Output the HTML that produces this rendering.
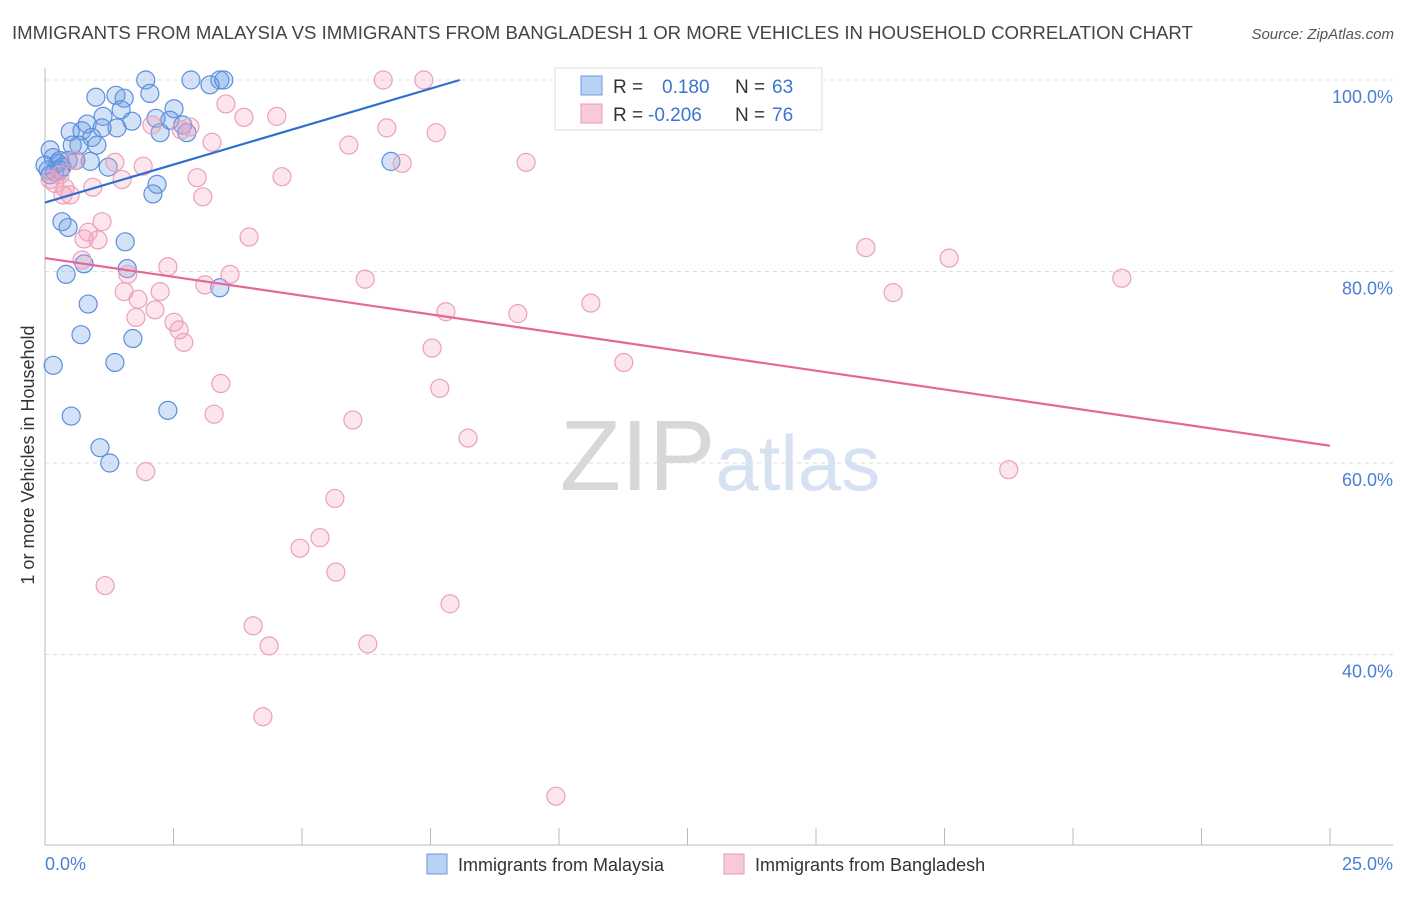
<!DOCTYPE html>
<html><head><meta charset="utf-8"><style>
body{margin:0;background:#fff;font-family:"Liberation Sans",sans-serif;}
svg text{font-family:"Liberation Sans",sans-serif;}
</style></head><body>
<svg id="chart" width="1406" height="892" xmlns="http://www.w3.org/2000/svg">
<text x="12" y="39" font-size="18.6" fill="#444">IMMIGRANTS FROM MALAYSIA VS IMMIGRANTS FROM BANGLADESH 1 OR MORE VEHICLES IN HOUSEHOLD CORRELATION CHART</text>
<text x="1394" y="39" font-size="15" fill="#555" text-anchor="end" font-style="italic">Source: ZipAtlas.com</text>
<text x="720" y="490" font-size="100" text-anchor="middle" fill="#ddd" font-family="Liberation Serif"><tspan fill="#d8d8d8">ZIP</tspan><tspan fill="#d6e2f2" font-family="Liberation Sans" font-size="78">atlas</tspan></text>
<g id="grid"></g>
<g id="axes"></g>
<g id="pts"></g>
<g id="lines"></g>
<text transform="translate(34,455) rotate(-90)" font-size="18" fill="#333" text-anchor="middle">1 or more Vehicles in Household</text>
<text x="45" y="870" font-size="18" fill="#4a7fd4">0.0%</text>
<text x="1393" y="870" font-size="18" fill="#4a7fd4" text-anchor="end">25.0%</text>
<g>
<rect x="555" y="68" width="267" height="62" fill="#fff" stroke="#ddd"/>
<rect x="581" y="76" width="21" height="19" fill="#b9d1f3" stroke="#6d9be0"/>
<rect x="581" y="104" width="21" height="19" fill="#f9c9d8" stroke="#eb9ab5"/>
<text x="613" y="93" font-size="19" fill="#333">R = </text><text x="662" y="93" font-size="19" fill="#3b74d1">0.180</text>
<text x="735" y="93" font-size="19" fill="#333">N = </text><text x="772" y="93" font-size="19" fill="#3b74d1">63</text>
<text x="613" y="121" font-size="19" fill="#333">R = </text><text x="648" y="121" font-size="19" fill="#3b74d1">-0.206</text>
<text x="735" y="121" font-size="19" fill="#333">N = </text><text x="772" y="121" font-size="19" fill="#3b74d1">76</text>
</g>
<g><rect x="427" y="854" width="20" height="20" fill="#b9d1f3" stroke="#6d9be0"/><text x="458" y="871" font-size="18" fill="#333">Immigrants from Malaysia</text></g>
<g><rect x="724" y="854" width="20" height="20" fill="#f9c9d8" stroke="#eb9ab5"/><text x="755" y="871" font-size="18" fill="#333">Immigrants from Bangladesh</text></g>
</svg>
<script>
const blueX=[1.96,2.84,3.40,3.48,3.21,2.04,0.99,1.38,1.54,1.48,2.51,1.13,1.69,2.16,2.43,2.68,0.82,1.40,1.11,0.49,0.72,2.24,2.76,0.91,0.66,1.01,0.53,0.10,0.16,0.29,0.45,0.88,0.25,0.60,0.06,0.19,1.23,0.33,6.73,2.18,2.10,0.33,0.45,1.56,1.60,0.76,0.41,3.40,0.84,0.70,1.71,1.36,0.16,0.51,2.39,1.07,1.26,0.29,0.00,0.10];
const blueY=[100,100,100,100,99.5,98.6,98.2,98.4,98.1,96.9,97.0,96.2,95.7,96.0,95.8,95.3,95.4,95.0,95.0,94.6,94.7,94.5,94.5,94.0,93.2,93.2,93.2,92.7,91.9,91.6,91.6,91.5,91.3,91.6,90.6,90.4,90.9,90.9,91.5,89.1,88.1,85.2,84.6,83.1,80.3,80.8,79.7,78.3,76.6,73.4,73.0,70.5,70.2,64.9,65.5,61.6,60.0,90.6,91.1,90.1];
const pinkX=[6.58,7.37,3.52,3.87,4.51,2.08,2.82,2.65,3.25,5.91,6.65,7.61,9.36,6.95,1.36,0.58,1.91,1.50,2.96,4.61,0.19,0.93,0.35,0.49,3.07,1.11,0.84,1.03,0.76,3.97,15.97,17.59,0.72,2.39,1.61,3.60,6.23,20.95,3.11,1.54,2.24,16.50,1.81,10.62,2.14,7.80,9.20,1.77,2.51,2.61,2.70,7.53,11.26,3.42,7.68,3.29,5.99,8.23,1.96,18.75,5.64,5.35,4.96,5.66,1.17,7.88,4.05,4.36,6.28,4.24,9.94,0.10,0.29,0.39];
const pinkY=[100,100,97.5,96.1,96.2,95.3,95.1,94.8,93.5,93.2,95.0,94.5,91.4,91.3,91.4,91.6,91.0,89.6,89.8,89.9,89.2,88.8,88.0,88.0,87.8,85.2,84.1,83.3,83.4,83.6,82.5,81.4,81.2,80.5,79.7,79.7,79.2,79.3,78.6,77.9,77.9,77.8,77.1,76.7,76.0,75.8,75.6,75.2,74.7,73.9,72.6,72.0,70.5,68.3,67.8,65.1,64.5,62.6,59.1,59.3,56.3,52.2,51.1,48.6,47.2,45.3,43.0,40.9,41.1,33.5,25.2,89.6,90.1,88.7];
const blueTrendX=[0,8.07], blueTrendY=[87.2,100];
const pinkTrendX=[0,25], pinkTrendY=[81.4,61.8];
const yTicks=[100,80,60,40];
const yTickLabels=["100.0%","80.0%","60.0%","40.0%"];
const xTicks=[0,2.5,5,7.5,10,12.5,15,17.5,20,22.5,25];
const NS="http://www.w3.org/2000/svg";
const sx=v=>45+v*(1285/25);
const sy=v=>80+(100-v)*9.575;
function mk(tag,attrs,parent){const e=document.createElementNS(NS,tag);for(const k in attrs)e.setAttribute(k,attrs[k]);parent.appendChild(e);return e;}
const grid=document.getElementById('grid'),axes=document.getElementById('axes'),pts=document.getElementById('pts'),lines=document.getElementById('lines');
yTicks.forEach((t,i)=>{
 const l=mk('line',{x1:45,x2:1393,y1:sy(t),y2:sy(t),stroke:'#ddd','stroke-dasharray':'4,4'},grid);
 
 
 const tx=mk('text',{x:1393,y:sy(t)+23,'font-size':18,fill:'#4a7fd4','text-anchor':'end'},grid);
 tx.textContent=yTickLabels[i];
 
 
});
const ya=mk('line',{x1:45,x2:45,y1:68,y2:845,stroke:'#bbb'},axes);


const xa=mk('line',{x1:45,x2:1393,y1:845,y2:845,stroke:'#bbb'},axes);


xTicks.forEach(t=>{
 const tk=mk('line',{x1:sx(t),x2:sx(t),y1:828,y2:845,stroke:'#bbb'},axes);
 
 
});
blueX.forEach((x,i)=>{
 const c=mk('circle',{cx:sx(x),cy:sy(blueY[i]),r:9,fill:'rgba(110,160,230,0.3)',stroke:'#5b8fdc','stroke-width':1.2},pts);
 
 
});
pinkX.forEach((x,i)=>{
 const c=mk('circle',{cx:sx(x),cy:sy(pinkY[i]),r:9,fill:'rgba(245,160,190,0.28)',stroke:'#eba0ba','stroke-width':1.2},pts);
 
 
});
const bl=mk('line',{x1:sx(blueTrendX[0]),y1:sy(blueTrendY[0]),x2:sx(blueTrendX[1]),y2:sy(blueTrendY[1]),stroke:'#2e6fd0','stroke-width':2.2},lines);


const pl=mk('line',{x1:sx(pinkTrendX[0]),y1:sy(pinkTrendY[0]),x2:sx(pinkTrendX[1]),y2:sy(pinkTrendY[1]),stroke:'#e5679a','stroke-width':2.2},lines);


</script>
</body></html>
